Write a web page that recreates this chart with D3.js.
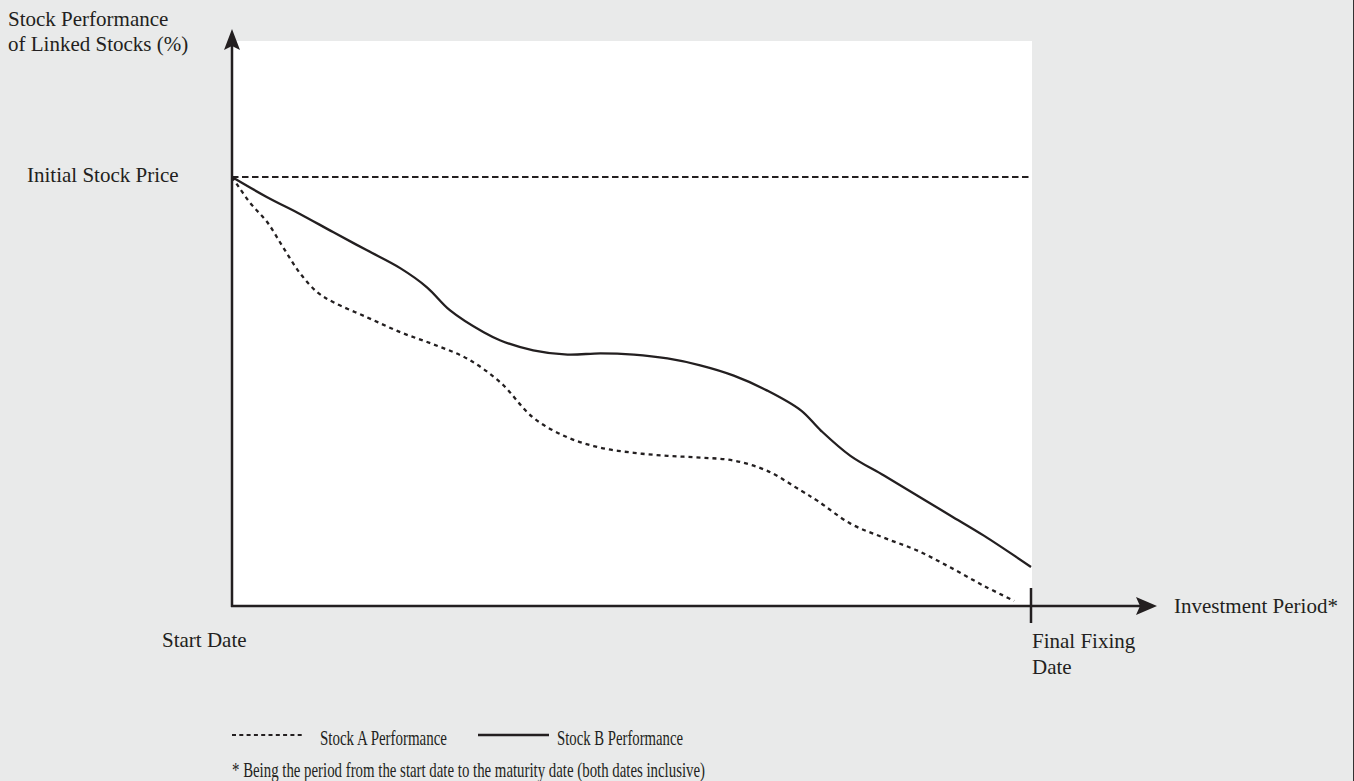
<!DOCTYPE html>
<html>
<head>
<meta charset="utf-8">
<script src="https://cdn.jsdelivr.net/npm/d3@7"></script>
<style>
  html, body {margin: 0; padding: 0; background: #e9eaea;}
  svg {display: block;}
  text {font-family: 'Liberation Serif', 'Times New Roman', serif; fill: #231f20;}
</style>
</head>
<body>
<script>
// investment period (0 = start date, 100 = final fixing date) vs performance (initial price = 100)
var periodA = [0, 2.3, 4.4, 6.4, 8.5, 10.7, 12.7, 16.9, 21.1, 25.2, 29.4, 33.6, 37.7, 42.0, 46.1, 50.3, 54.5, 58.6, 62.8, 67.0, 71.2, 73.3, 77.4, 81.6, 85.8, 90.0, 94.1, 97.9]
var stockA  = [100, 93.9, 89.5, 83.6, 77.6, 73.1, 70.8, 67.3, 63.8, 61.0, 57.7, 52.1, 43.9, 39.3, 36.9, 35.7, 35.0, 34.6, 33.9, 31.5, 26.9, 24.5, 19.2, 15.9, 12.9, 8.9, 4.7, 1.2]

var periodB = [0, 4.4, 8.5, 12.7, 16.9, 21.1, 24.4, 27.3, 31.5, 33.6, 37.7, 42.0, 46.1, 50.3, 54.5, 58.6, 62.8, 67.0, 71.2, 73.7, 77.4, 81.6, 85.8, 90.0, 94.1, 100]
var stockB  = [100, 95.3, 91.4, 87.1, 82.9, 78.7, 74.3, 68.9, 63.8, 61.9, 59.6, 58.6, 58.9, 58.6, 57.7, 56.1, 53.7, 50.2, 45.6, 40.9, 35.0, 30.4, 25.7, 21.0, 16.4, 9.1]

var initialPrice = 100
var seriesNames = ['Stock A Performance', 'Stock B Performance']
var footnote = '* Being the period from the start date to the maturity date (both dates inclusive)'

var width = 1354, height = 781
var svg = d3.select('body').append('svg').attr('width', width).attr('height', height)

var x = d3.scaleLinear().domain([0, 100]).range([232, 1031])
var y = d3.scaleLinear().domain([0, 100]).range([606, 177])

// white plot panel
svg.append('rect')
  .attr('x', x(0)).attr('y', 41)
  .attr('width', 1032 - x(0)).attr('height', y(0) - 41)
  .attr('fill', '#fff')

// right page edge
svg.append('line').attr('x1', 1353.5).attr('x2', 1353.5).attr('y1', 0).attr('y2', height)
  .attr('stroke', '#333').attr('stroke-width', 1)

// initial stock price reference
svg.append('line')
  .attr('x1', x(0)).attr('x2', 1032)
  .attr('y1', y(initialPrice)).attr('y2', y(initialPrice))
  .attr('stroke', '#231f20').attr('stroke-width', 2)
  .attr('stroke-dasharray', '6.5,3.5')

var line = d3.line().x(d => x(d[0])).y(d => y(d[1])).curve(d3.curveCatmullRom.alpha(0.5))

svg.append('path')
  .datum(d3.zip(periodA, stockA))
  .attr('d', line)
  .attr('fill', 'none').attr('stroke', '#231f20').attr('stroke-width', 2.3)
  .attr('stroke-dasharray', '4,4')

svg.append('path')
  .datum(d3.zip(periodB, stockB))
  .attr('d', line)
  .attr('fill', 'none').attr('stroke', '#231f20').attr('stroke-width', 2.3)

// axes with arrow heads
var axisColor = '#231f20'
svg.append('line')
  .attr('x1', x(0)).attr('x2', x(0)).attr('y1', y(0) + 1).attr('y2', 45)
  .attr('stroke', axisColor).attr('stroke-width', 2.5)
svg.append('path')
  .attr('d', `M${x(0)},29 L${x(0) + 8},50 L${x(0)},46 L${x(0) - 8},50 Z`)
  .attr('fill', axisColor)

svg.append('line')
  .attr('x1', x(0) - 1).attr('x2', 1140).attr('y1', y(0)).attr('y2', y(0))
  .attr('stroke', axisColor).attr('stroke-width', 2.5)
svg.append('path')
  .attr('d', `M1157,${y(0)} L1136,${y(0) - 9} L1140,${y(0)} L1136,${y(0) + 9} Z`)
  .attr('fill', axisColor)

// final fixing tick
svg.append('line')
  .attr('x1', x(100)).attr('x2', x(100)).attr('y1', 588).attr('y2', 623)
  .attr('stroke', axisColor).attr('stroke-width', 2.5)

// labels
function label(str, lx, ly, opts){
  var t = svg.append('text').attr('x', lx).attr('y', ly).text(str)
    .style('font-size', (opts && opts.size || 21) + 'px')
  if (opts && opts.len) t.attr('textLength', opts.len).attr('lengthAdjust', 'spacingAndGlyphs')
  return t
}

label('Stock Performance', 8, 26)
label('of Linked Stocks (%)', 8, 51)
label('Initial Stock Price', 27, 182)
label('Start Date', 162, 647)
label('Investment Period*', 1174, 613)
label('Final Fixing', 1032, 648)
label('Date', 1032, 674)

// legend
var legendY = 735
svg.append('line').attr('x1', 232).attr('x2', 302).attr('y1', legendY).attr('y2', legendY)
  .attr('stroke', '#231f20').attr('stroke-width', 2).attr('stroke-dasharray', '4,3.3')
svg.append('line').attr('x1', 478).attr('x2', 549).attr('y1', legendY).attr('y2', legendY)
  .attr('stroke', '#231f20').attr('stroke-width', 2.3)
label(seriesNames[0], 320, 745, {len: 127, size: 22})
label(seriesNames[1], 557, 745, {len: 126, size: 22})

label(footnote, 232, 777, {len: 473, size: 22})
</script>
</body>
</html>
